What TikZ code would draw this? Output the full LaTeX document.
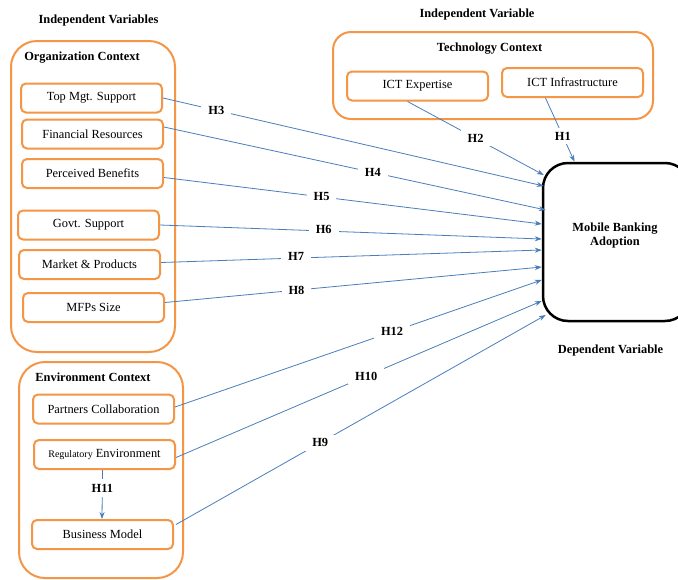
\documentclass[tikz,border=0pt]{standalone}
\usepackage{fontspec}
\setmainfont{Liberation Serif}
\usetikzlibrary{arrows.meta}
\definecolor{orbox}{RGB}{244,150,70}
\definecolor{blueline}{RGB}{74,126,187}
\begin{document}
\begin{tikzpicture}[x=1pt,y=-1pt,
  every node/.style={font=\fontsize{12.4}{14}\selectfont},
  container/.style={draw=orbox,line width=2pt,rounded corners=26pt,inner sep=0pt},
  item/.style={draw=orbox,line width=2pt,rounded corners=5pt,minimum width=141pt,minimum height=29pt,inner sep=0pt},
  title/.style={font=\fontsize{12.4}{14}\selectfont\bfseries},
  link/.style={draw=blueline,line width=0.8pt,-{Stealth[length=7pt,width=5pt]}},
  hyp/.style={fill=white,inner xsep=7pt,inner ysep=4pt,font=\fontsize{12.4}{14}\selectfont\bfseries}
]
\clip (0,0) rectangle (678,579);
\fill[white] (0,0) rectangle (678,579);

% containers
\node[container,minimum width=164pt,minimum height=311pt] (org) at (93,196.5) {};
\node[container,minimum width=164pt,minimum height=216pt] (env) at (101,470) {};
\node[container,rounded corners=18pt,minimum width=320pt,minimum height=87pt] (tech) at (493,75.5) {};
\node[draw=black,line width=2.5pt,rounded corners=25pt,minimum width=147pt,minimum height=158pt,inner sep=0pt] (mba) at (616.5,242) {};
\node[title,align=center] (mbat) at (615,236) {Mobile Banking\\[0pt]Adoption};

% titles
\node[title] (t1) at (98.5,21) {Independent Variables};
\node[title] (t2) at (477,15) {Independent Variable};
\node[title] (t3) at (610.5,351) {Dependent Variable};
\node[title] (t4) at (82,58) {Organization Context};
\node[title] (t5) at (93,377) {Environment Context};
\node[title] (t6) at (489.5,49) {Technology Context};

% items
\node[item] (top) at (91.5,98) {Top Mgt. Support};
\node[item] (fin) at (92.5,134) {Financial Resources};
\node[item] (per) at (92.5,173.5) {Perceived Benefits};
\node[item] (gov) at (88.5,225) {Govt. Support};
\node[item] (mkt) at (89.5,264.5) {Market \& Products};
\node[item] (mfp) at (93.5,307.5) {MFPs Size};
\node[item] (par) at (103.5,409) {Partners Collaboration};
\node[item] (reg) at (104.5,454.5) {{\fontsize{10}{12}\selectfont Regulatory} Environment};
\node[item] (bus) at (102.5,534.5) {Business Model};
\node[item] (exp) at (417.5,86) {ICT Expertise};
\node[item] (inf) at (572.5,82.5) {ICT Infrastructure};

% connectors
\draw[link] ([xshift=-27pt]inf.south) -- node[hyp,pos=0.6] (h1) {H1} ([xshift=-42pt]mba.north);
\draw[link] ([xshift=-10pt]exp.south) -- node[hyp,pos=0.5] (h2) {H2} ([xshift=2pt,yshift=67pt]mba.west);
\draw[link] (top.east) -- node[hyp,pos=0.14] (h3) {H3} ([xshift=2pt,yshift=56pt]mba.west);
\draw[link] ([yshift=7pt]fin.east) -- node[hyp,pos=0.547] (h4) {H4} ([xshift=4pt,yshift=32pt]mba.west);
\draw[link] ([yshift=-4pt]per.east) -- node[hyp,pos=0.417] (h5) {H5} ([yshift=18pt]mba.west);
\draw[link] (gov.east) -- node[hyp,pos=0.429,yshift=2pt] (h6) {H6} ([yshift=3pt]mba.west);
\draw[link] ([yshift=2pt]mkt.east) -- node[hyp,pos=0.355,yshift=2pt] (h7) {H7} ([yshift=-8pt]mba.west);
\draw[link] ([yshift=5pt]mfp.east) -- node[hyp,pos=0.349] (h8) {H8} ([yshift=-25pt]mba.west);
\draw[link] ([yshift=2pt]par.east) -- node[hyp,pos=0.592] (h12) {H12} ([yshift=-38pt]mba.west);
\draw[link] ([yshift=-3pt]reg.east) -- node[hyp,pos=0.52] (h10) {H10} ([yshift=-59pt]mba.west);
\draw[link] ([xshift=2pt,yshift=10pt]bus.east) -- node[hyp,pos=0.39] (h9) {H9} ([xshift=4pt,yshift=-73pt]mba.west);
\draw[link] ([xshift=-2pt]reg.south) -- node[hyp,pos=0.37,inner ysep=5pt] (h11) {H11} ([xshift=-0.5pt]bus.north);
\end{tikzpicture}
\end{document}
